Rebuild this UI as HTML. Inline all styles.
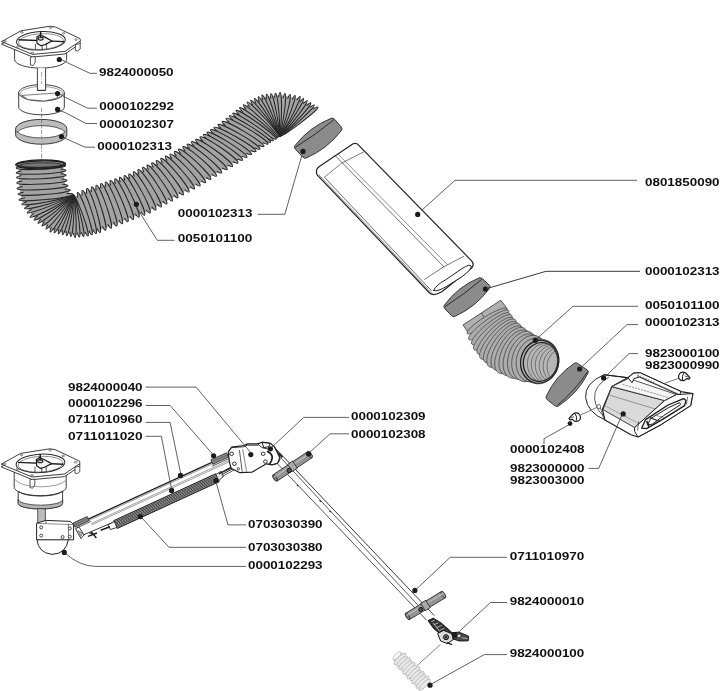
<!DOCTYPE html>
<html><head><meta charset="utf-8"><title>Parts diagram</title>
<style>html,body{margin:0;padding:0;background:#fff;}body{width:722px;height:691px;overflow:hidden;font-family:"Liberation Sans",sans-serif;}svg{display:block;filter:blur(0.35px);}</style></head>
<body>
<svg width="722" height="691" viewBox="0 0 722 691">
<rect width="722" height="691" fill="#fff"/>
<g>
<path d="M280.8 134.9 L279.9 134.2 L278.8 133.9 L277.7 134.1 L276.9 134.6 L273.9 137.5 L265.8 142.7 L253.7 150.2 L235.9 161.5 L198.2 184.1 L148.8 210.7 L99.3 230 L87.1 233.6 L74.9 234.9 L51.4 229.8 L32.3 215.8 L21.6 199.7 L19.6 188.3 L19 177.4 L18.6 167.9 L63 165.7 L63.6 175.1 L65.4 185.7 L70.4 194.8 L70.7 195.7 L71.6 196.7 L73.1 197.1 L73.9 196.9 L87.7 191 L130.2 176.3 L171.8 155.9 L202.1 138.5 L216.3 128.8 L228.2 119.8 L238.1 112 L248.8 103.9 L263 97.4 L279.9 95.1 L298.8 98.8 L315.9 108.6 Z" fill="#a3a3a3" stroke="none" stroke-width="0" stroke-linejoin="round" />
<ellipse cx="298.4" cy="121.8" rx="24.6" ry="2.2" fill="#a3a3a3" stroke="#262626" stroke-width="1.0" pathLength="100" stroke-dasharray="62 38" stroke-dashoffset="6" transform="rotate(-36.9 298.4 121.8)"/>
<ellipse cx="296.5" cy="120.7" rx="23.8" ry="2.1" fill="#a3a3a3" stroke="#262626" stroke-width="1.0" pathLength="100" stroke-dasharray="62 38" stroke-dashoffset="6" transform="rotate(-41.5 296.5 120.7)"/>
<ellipse cx="294.8" cy="119.7" rx="23.3" ry="2.1" fill="#a3a3a3" stroke="#262626" stroke-width="1.0" pathLength="100" stroke-dasharray="62 38" stroke-dashoffset="6" transform="rotate(-46.4 294.8 119.7)"/>
<ellipse cx="292.9" cy="118.6" rx="22.9" ry="2.1" fill="#a3a3a3" stroke="#262626" stroke-width="1.0" pathLength="100" stroke-dasharray="62 38" stroke-dashoffset="6" transform="rotate(-51.5 292.9 118.6)"/>
<ellipse cx="291.1" cy="117.5" rx="22.7" ry="2" fill="#a3a3a3" stroke="#262626" stroke-width="1.0" pathLength="100" stroke-dasharray="62 38" stroke-dashoffset="6" transform="rotate(-56.7 291.1 117.5)"/>
<ellipse cx="289.4" cy="116.5" rx="22.7" ry="2" fill="#a3a3a3" stroke="#262626" stroke-width="1.0" pathLength="100" stroke-dasharray="62 38" stroke-dashoffset="6" transform="rotate(-62 289.4 116.5)"/>
<ellipse cx="286.9" cy="116" rx="22.1" ry="2" fill="#a3a3a3" stroke="#262626" stroke-width="1.0" pathLength="100" stroke-dasharray="62 38" stroke-dashoffset="6" transform="rotate(-68.3 286.9 116)"/>
<ellipse cx="284.4" cy="115.5" rx="21.7" ry="2" fill="#a3a3a3" stroke="#262626" stroke-width="1.0" pathLength="100" stroke-dasharray="62 38" stroke-dashoffset="6" transform="rotate(-74.9 284.4 115.5)"/>
<ellipse cx="281.9" cy="115" rx="21.7" ry="2" fill="#a3a3a3" stroke="#262626" stroke-width="1.0" pathLength="100" stroke-dasharray="62 38" stroke-dashoffset="6" transform="rotate(-81.7 281.9 115)"/>
<ellipse cx="279.4" cy="114.5" rx="22" ry="2" fill="#a3a3a3" stroke="#262626" stroke-width="1.0" pathLength="100" stroke-dasharray="62 38" stroke-dashoffset="6" transform="rotate(-88.3 279.4 114.5)"/>
<ellipse cx="277.1" cy="114.8" rx="21.7" ry="2" fill="#a3a3a3" stroke="#262626" stroke-width="1.0" pathLength="100" stroke-dasharray="62 38" stroke-dashoffset="6" transform="rotate(-94.2 277.1 114.8)"/>
<ellipse cx="274.9" cy="115.1" rx="21.7" ry="2" fill="#a3a3a3" stroke="#262626" stroke-width="1.0" pathLength="100" stroke-dasharray="62 38" stroke-dashoffset="6" transform="rotate(-100.2 274.9 115.1)"/>
<ellipse cx="272.6" cy="115.4" rx="21.9" ry="2" fill="#a3a3a3" stroke="#262626" stroke-width="1.0" pathLength="100" stroke-dasharray="62 38" stroke-dashoffset="6" transform="rotate(-106.2 272.6 115.4)"/>
<ellipse cx="270.4" cy="115.8" rx="22.4" ry="2" fill="#a3a3a3" stroke="#262626" stroke-width="1.0" pathLength="100" stroke-dasharray="62 38" stroke-dashoffset="6" transform="rotate(-111.9 270.4 115.8)"/>
<ellipse cx="268.5" cy="116.6" rx="22.4" ry="2" fill="#a3a3a3" stroke="#262626" stroke-width="1.0" pathLength="100" stroke-dasharray="62 38" stroke-dashoffset="6" transform="rotate(-117.2 268.5 116.6)"/>
<ellipse cx="266.6" cy="117.5" rx="22.5" ry="2" fill="#a3a3a3" stroke="#262626" stroke-width="1.0" pathLength="100" stroke-dasharray="62 38" stroke-dashoffset="6" transform="rotate(-122.5 266.6 117.5)"/>
<ellipse cx="264.7" cy="118.4" rx="22.9" ry="2.1" fill="#a3a3a3" stroke="#262626" stroke-width="1.0" pathLength="100" stroke-dasharray="62 38" stroke-dashoffset="6" transform="rotate(-127.6 264.7 118.4)"/>
<ellipse cx="262.9" cy="119.2" rx="23.4" ry="2.1" fill="#a3a3a3" stroke="#262626" stroke-width="1.0" pathLength="100" stroke-dasharray="62 38" stroke-dashoffset="6" transform="rotate(-132.6 262.9 119.2)"/>
<ellipse cx="260.6" cy="121.1" rx="23.7" ry="2.2" fill="#a3a3a3" stroke="#262626" stroke-width="1.0" pathLength="100" stroke-dasharray="62 38" stroke-dashoffset="6" transform="rotate(-136.7 260.6 121.1)"/>
<ellipse cx="258.3" cy="122.9" rx="24.1" ry="2.3" fill="#a3a3a3" stroke="#262626" stroke-width="1.0" pathLength="100" stroke-dasharray="62 38" stroke-dashoffset="6" transform="rotate(-140.7 258.3 122.9)"/>
<ellipse cx="256" cy="124.8" rx="24.6" ry="2.5" fill="#a3a3a3" stroke="#262626" stroke-width="1.0" pathLength="100" stroke-dasharray="62 38" stroke-dashoffset="6" transform="rotate(-144.5 256 124.8)"/>
<ellipse cx="253" cy="126.9" rx="24.5" ry="2.5" fill="#a3a3a3" stroke="#262626" stroke-width="1.0" pathLength="100" stroke-dasharray="62 38" stroke-dashoffset="6" transform="rotate(-145.9 253 126.9)"/>
<ellipse cx="250" cy="129.1" rx="24.5" ry="2.6" fill="#a3a3a3" stroke="#262626" stroke-width="1.0" pathLength="100" stroke-dasharray="62 38" stroke-dashoffset="6" transform="rotate(-147.3 250 129.1)"/>
<ellipse cx="247" cy="131.2" rx="24.6" ry="2.7" fill="#a3a3a3" stroke="#262626" stroke-width="1.0" pathLength="100" stroke-dasharray="62 38" stroke-dashoffset="6" transform="rotate(-148.7 247 131.2)"/>
<ellipse cx="243" cy="134" rx="24.4" ry="2.8" fill="#a3a3a3" stroke="#262626" stroke-width="1.0" pathLength="100" stroke-dasharray="62 38" stroke-dashoffset="6" transform="rotate(-149.2 243 134)"/>
<ellipse cx="239" cy="136.8" rx="24.3" ry="2.8" fill="#a3a3a3" stroke="#262626" stroke-width="1.0" pathLength="100" stroke-dasharray="62 38" stroke-dashoffset="6" transform="rotate(-149.7 239 136.8)"/>
<ellipse cx="235" cy="139.5" rx="24.2" ry="2.9" fill="#a3a3a3" stroke="#262626" stroke-width="1.0" pathLength="100" stroke-dasharray="62 38" stroke-dashoffset="6" transform="rotate(-150.3 235 139.5)"/>
<ellipse cx="231" cy="142.1" rx="23.9" ry="2.9" fill="#a3a3a3" stroke="#262626" stroke-width="1.0" pathLength="100" stroke-dasharray="62 38" stroke-dashoffset="6" transform="rotate(-149.1 231 142.1)"/>
<ellipse cx="227" cy="144.8" rx="23.6" ry="2.9" fill="#a3a3a3" stroke="#262626" stroke-width="1.0" pathLength="100" stroke-dasharray="62 38" stroke-dashoffset="6" transform="rotate(-148 227 144.8)"/>
<ellipse cx="223" cy="147.4" rx="23.3" ry="3" fill="#a3a3a3" stroke="#262626" stroke-width="1.0" pathLength="100" stroke-dasharray="62 38" stroke-dashoffset="6" transform="rotate(-146.8 223 147.4)"/>
<ellipse cx="219" cy="150" rx="23" ry="3" fill="#a3a3a3" stroke="#262626" stroke-width="1.0" pathLength="100" stroke-dasharray="62 38" stroke-dashoffset="6" transform="rotate(-145.6 219 150)"/>
<ellipse cx="214.1" cy="152.9" rx="22.8" ry="3" fill="#a3a3a3" stroke="#262626" stroke-width="1.0" pathLength="100" stroke-dasharray="62 38" stroke-dashoffset="6" transform="rotate(-143.9 214.1 152.9)"/>
<ellipse cx="209.3" cy="155.7" rx="22.6" ry="2.9" fill="#a3a3a3" stroke="#262626" stroke-width="1.0" pathLength="100" stroke-dasharray="62 38" stroke-dashoffset="6" transform="rotate(-142.2 209.3 155.7)"/>
<ellipse cx="204.4" cy="158.6" rx="22.4" ry="2.9" fill="#a3a3a3" stroke="#262626" stroke-width="1.0" pathLength="100" stroke-dasharray="62 38" stroke-dashoffset="6" transform="rotate(-140.4 204.4 158.6)"/>
<ellipse cx="199.6" cy="161.4" rx="22.3" ry="2.9" fill="#a3a3a3" stroke="#262626" stroke-width="1.0" pathLength="100" stroke-dasharray="62 38" stroke-dashoffset="6" transform="rotate(-138.6 199.6 161.4)"/>
<ellipse cx="194.7" cy="164.3" rx="22.1" ry="2.9" fill="#a3a3a3" stroke="#262626" stroke-width="1.0" pathLength="100" stroke-dasharray="62 38" stroke-dashoffset="6" transform="rotate(-136.8 194.7 164.3)"/>
<ellipse cx="189.9" cy="167.1" rx="22" ry="2.9" fill="#a3a3a3" stroke="#262626" stroke-width="1.0" pathLength="100" stroke-dasharray="62 38" stroke-dashoffset="6" transform="rotate(-135 189.9 167.1)"/>
<ellipse cx="185" cy="170" rx="21.9" ry="2.9" fill="#a3a3a3" stroke="#262626" stroke-width="1.0" pathLength="100" stroke-dasharray="62 38" stroke-dashoffset="6" transform="rotate(-133.2 185 170)"/>
<ellipse cx="179.9" cy="172.6" rx="21.9" ry="2.8" fill="#a3a3a3" stroke="#262626" stroke-width="1.0" pathLength="100" stroke-dasharray="62 38" stroke-dashoffset="6" transform="rotate(-131.5 179.9 172.6)"/>
<ellipse cx="174.9" cy="175.2" rx="21.9" ry="2.8" fill="#a3a3a3" stroke="#262626" stroke-width="1.0" pathLength="100" stroke-dasharray="62 38" stroke-dashoffset="6" transform="rotate(-129.8 174.9 175.2)"/>
<ellipse cx="169.8" cy="177.8" rx="21.8" ry="2.8" fill="#a3a3a3" stroke="#262626" stroke-width="1.0" pathLength="100" stroke-dasharray="62 38" stroke-dashoffset="6" transform="rotate(-128.2 169.8 177.8)"/>
<ellipse cx="164.8" cy="180.4" rx="21.8" ry="2.8" fill="#a3a3a3" stroke="#262626" stroke-width="1.0" pathLength="100" stroke-dasharray="62 38" stroke-dashoffset="6" transform="rotate(-126.5 164.8 180.4)"/>
<ellipse cx="159.7" cy="183.1" rx="21.9" ry="2.8" fill="#a3a3a3" stroke="#262626" stroke-width="1.0" pathLength="100" stroke-dasharray="62 38" stroke-dashoffset="6" transform="rotate(-124.9 159.7 183.1)"/>
<ellipse cx="154.7" cy="185.7" rx="21.9" ry="2.8" fill="#a3a3a3" stroke="#262626" stroke-width="1.0" pathLength="100" stroke-dasharray="62 38" stroke-dashoffset="6" transform="rotate(-123.2 154.7 185.7)"/>
<ellipse cx="149.6" cy="188.3" rx="22" ry="2.9" fill="#a3a3a3" stroke="#262626" stroke-width="1.0" pathLength="100" stroke-dasharray="62 38" stroke-dashoffset="6" transform="rotate(-121.6 149.6 188.3)"/>
<ellipse cx="144.6" cy="190.9" rx="22.1" ry="2.9" fill="#a3a3a3" stroke="#262626" stroke-width="1.0" pathLength="100" stroke-dasharray="62 38" stroke-dashoffset="6" transform="rotate(-119.9 144.6 190.9)"/>
<ellipse cx="139.5" cy="193.5" rx="22.1" ry="2.9" fill="#a3a3a3" stroke="#262626" stroke-width="1.0" pathLength="100" stroke-dasharray="62 38" stroke-dashoffset="6" transform="rotate(-118.3 139.5 193.5)"/>
<ellipse cx="134.4" cy="195.4" rx="22.2" ry="2.9" fill="#a3a3a3" stroke="#262626" stroke-width="1.0" pathLength="100" stroke-dasharray="62 38" stroke-dashoffset="6" transform="rotate(-117 134.4 195.4)"/>
<ellipse cx="129.3" cy="197.3" rx="22.2" ry="2.8" fill="#a3a3a3" stroke="#262626" stroke-width="1.0" pathLength="100" stroke-dasharray="62 38" stroke-dashoffset="6" transform="rotate(-115.6 129.3 197.3)"/>
<ellipse cx="124.2" cy="199.2" rx="22.3" ry="2.8" fill="#a3a3a3" stroke="#262626" stroke-width="1.0" pathLength="100" stroke-dasharray="62 38" stroke-dashoffset="6" transform="rotate(-114.3 124.2 199.2)"/>
<ellipse cx="119.1" cy="201.1" rx="22.4" ry="2.8" fill="#a3a3a3" stroke="#262626" stroke-width="1.0" pathLength="100" stroke-dasharray="62 38" stroke-dashoffset="6" transform="rotate(-112.9 119.1 201.1)"/>
<ellipse cx="113.9" cy="202.9" rx="22.5" ry="2.8" fill="#a3a3a3" stroke="#262626" stroke-width="1.0" pathLength="100" stroke-dasharray="62 38" stroke-dashoffset="6" transform="rotate(-111.6 113.9 202.9)"/>
<ellipse cx="108.8" cy="204.8" rx="22.6" ry="2.8" fill="#a3a3a3" stroke="#262626" stroke-width="1.0" pathLength="100" stroke-dasharray="62 38" stroke-dashoffset="6" transform="rotate(-110.3 108.8 204.8)"/>
<ellipse cx="103.7" cy="206.7" rx="22.7" ry="2.8" fill="#a3a3a3" stroke="#262626" stroke-width="1.0" pathLength="100" stroke-dasharray="62 38" stroke-dashoffset="6" transform="rotate(-109 103.7 206.7)"/>
<ellipse cx="98.6" cy="208.6" rx="22.8" ry="2.8" fill="#a3a3a3" stroke="#262626" stroke-width="1.0" pathLength="100" stroke-dasharray="62 38" stroke-dashoffset="6" transform="rotate(-107.7 98.6 208.6)"/>
<ellipse cx="93.5" cy="210.5" rx="22.9" ry="2.8" fill="#a3a3a3" stroke="#262626" stroke-width="1.0" pathLength="100" stroke-dasharray="62 38" stroke-dashoffset="6" transform="rotate(-106.5 93.5 210.5)"/>
<ellipse cx="89.2" cy="212.1" rx="22.6" ry="2.6" fill="#a3a3a3" stroke="#262626" stroke-width="1.0" pathLength="100" stroke-dasharray="62 38" stroke-dashoffset="6" transform="rotate(-107.6 89.2 212.1)"/>
<ellipse cx="84.8" cy="213.7" rx="22.3" ry="2.4" fill="#a3a3a3" stroke="#262626" stroke-width="1.0" pathLength="100" stroke-dasharray="62 38" stroke-dashoffset="6" transform="rotate(-108.7 84.8 213.7)"/>
<ellipse cx="80.5" cy="215.2" rx="22.1" ry="2.2" fill="#a3a3a3" stroke="#262626" stroke-width="1.0" pathLength="100" stroke-dasharray="62 38" stroke-dashoffset="6" transform="rotate(-109.9 80.5 215.2)"/>
<ellipse cx="78.3" cy="215.5" rx="21.7" ry="2.1" fill="#a3a3a3" stroke="#262626" stroke-width="1.0" pathLength="100" stroke-dasharray="62 38" stroke-dashoffset="6" transform="rotate(-104.3 78.3 215.5)"/>
<ellipse cx="76.2" cy="215.8" rx="21.5" ry="2" fill="#a3a3a3" stroke="#262626" stroke-width="1.0" pathLength="100" stroke-dasharray="62 38" stroke-dashoffset="6" transform="rotate(-98.5 76.2 215.8)"/>
<ellipse cx="74" cy="216" rx="21.5" ry="1.9" fill="#a3a3a3" stroke="#262626" stroke-width="1.0" pathLength="100" stroke-dasharray="62 38" stroke-dashoffset="6" transform="rotate(-92.7 74 216)"/>
<ellipse cx="71.9" cy="215.5" rx="21.1" ry="1.9" fill="#a3a3a3" stroke="#262626" stroke-width="1.0" pathLength="100" stroke-dasharray="62 38" stroke-dashoffset="6" transform="rotate(-87.1 71.9 215.5)"/>
<ellipse cx="69.8" cy="215.1" rx="20.8" ry="1.9" fill="#a3a3a3" stroke="#262626" stroke-width="1.0" pathLength="100" stroke-dasharray="62 38" stroke-dashoffset="6" transform="rotate(-81.3 69.8 215.1)"/>
<ellipse cx="67.8" cy="214.6" rx="20.8" ry="1.9" fill="#a3a3a3" stroke="#262626" stroke-width="1.0" pathLength="100" stroke-dasharray="62 38" stroke-dashoffset="6" transform="rotate(-75.4 67.8 214.6)"/>
<ellipse cx="65.7" cy="214.2" rx="21" ry="1.9" fill="#a3a3a3" stroke="#262626" stroke-width="1.0" pathLength="100" stroke-dasharray="62 38" stroke-dashoffset="6" transform="rotate(-69.6 65.7 214.2)"/>
<ellipse cx="63.6" cy="213.7" rx="21.4" ry="1.9" fill="#a3a3a3" stroke="#262626" stroke-width="1.0" pathLength="100" stroke-dasharray="62 38" stroke-dashoffset="6" transform="rotate(-63.9 63.6 213.7)"/>
<ellipse cx="61.5" cy="213.2" rx="22" ry="2" fill="#a3a3a3" stroke="#262626" stroke-width="1.0" pathLength="100" stroke-dasharray="62 38" stroke-dashoffset="6" transform="rotate(-58.5 61.5 213.2)"/>
<ellipse cx="59.5" cy="211.8" rx="21.9" ry="2" fill="#a3a3a3" stroke="#262626" stroke-width="1.0" pathLength="100" stroke-dasharray="62 38" stroke-dashoffset="6" transform="rotate(-52 59.5 211.8)"/>
<ellipse cx="57.5" cy="210.2" rx="22.1" ry="2" fill="#a3a3a3" stroke="#262626" stroke-width="1.0" pathLength="100" stroke-dasharray="62 38" stroke-dashoffset="6" transform="rotate(-45.5 57.5 210.2)"/>
<ellipse cx="55.5" cy="208.8" rx="22.6" ry="2" fill="#a3a3a3" stroke="#262626" stroke-width="1.0" pathLength="100" stroke-dasharray="62 38" stroke-dashoffset="6" transform="rotate(-39.2 55.5 208.8)"/>
<ellipse cx="53.5" cy="207.2" rx="23.3" ry="2.1" fill="#a3a3a3" stroke="#262626" stroke-width="1.0" pathLength="100" stroke-dasharray="62 38" stroke-dashoffset="6" transform="rotate(-33.2 53.5 207.2)"/>
<ellipse cx="51.5" cy="205.8" rx="24.3" ry="2.2" fill="#a3a3a3" stroke="#262626" stroke-width="1.0" pathLength="100" stroke-dasharray="62 38" stroke-dashoffset="6" transform="rotate(-27.6 51.5 205.8)"/>
<ellipse cx="50.1" cy="203.6" rx="24.6" ry="2.2" fill="#a3a3a3" stroke="#262626" stroke-width="1.0" pathLength="100" stroke-dasharray="62 38" stroke-dashoffset="6" transform="rotate(-21.7 50.1 203.6)"/>
<ellipse cx="48.8" cy="201.5" rx="25.2" ry="2.3" fill="#a3a3a3" stroke="#262626" stroke-width="1.0" pathLength="100" stroke-dasharray="62 38" stroke-dashoffset="6" transform="rotate(-16.1 48.8 201.5)"/>
<ellipse cx="47.4" cy="199.4" rx="26.1" ry="2.3" fill="#a3a3a3" stroke="#262626" stroke-width="1.0" pathLength="100" stroke-dasharray="62 38" stroke-dashoffset="6" transform="rotate(-10.8 47.4 199.4)"/>
<ellipse cx="46" cy="197.2" rx="27.1" ry="2.4" fill="#a3a3a3" stroke="#262626" stroke-width="1.0" pathLength="100" stroke-dasharray="62 38" stroke-dashoffset="6" transform="rotate(-5.8 46 197.2)"/>
<ellipse cx="44.2" cy="192.1" rx="26.3" ry="2.5" fill="#a3a3a3" stroke="#262626" stroke-width="1.0" pathLength="100" stroke-dasharray="62 38" stroke-dashoffset="6" transform="rotate(-4.6 44.2 192.1)"/>
<ellipse cx="42.5" cy="187" rx="25.5" ry="2.6" fill="#a3a3a3" stroke="#262626" stroke-width="1.0" pathLength="100" stroke-dasharray="62 38" stroke-dashoffset="6" transform="rotate(-3.4 42.5 187)"/>
<ellipse cx="41.9" cy="181.6" rx="25.2" ry="2.5" fill="#a3a3a3" stroke="#262626" stroke-width="1.0" pathLength="100" stroke-dasharray="62 38" stroke-dashoffset="6" transform="rotate(-3.1 41.9 181.6)"/>
<ellipse cx="41.3" cy="176.2" rx="24.9" ry="2.5" fill="#a3a3a3" stroke="#262626" stroke-width="1.0" pathLength="100" stroke-dasharray="62 38" stroke-dashoffset="6" transform="rotate(-2.9 41.3 176.2)"/>
<ellipse cx="41.1" cy="171.5" rx="24.9" ry="2.5" fill="#a3a3a3" stroke="#262626" stroke-width="1.0" pathLength="100" stroke-dasharray="62 38" stroke-dashoffset="6" transform="rotate(-2.8 41.1 171.5)"/>
<ellipse cx="40.8" cy="166.8" rx="24.8" ry="2.5" fill="#a3a3a3" stroke="#262626" stroke-width="1.0" pathLength="100" stroke-dasharray="62 38" stroke-dashoffset="6" transform="rotate(-2.8 40.8 166.8)"/>
<ellipse cx="40.6" cy="164.4" rx="25" ry="4.5" fill="#5c5c5c" stroke="#1c1c1c" stroke-width="1.1" transform="rotate(-1 40.6 164.4)"/>
<ellipse cx="40.6" cy="164.2" rx="23.4" ry="3.3" fill="#8a8a8a" stroke="#1c1c1c" stroke-width="1.0" transform="rotate(-1 40.6 164.2)"/>
<ellipse cx="40.6" cy="165" rx="21" ry="2.2" fill="#777" stroke="#222" stroke-width="0.8" transform="rotate(-1 40.6 165)"/>
<circle cx="136.3" cy="204.3" r="2.6" fill="#1c1c1c"/>
</g>
<g>
<path d="M463 325 L500.8 300.2 L507 308.5 L468.5 333 Z" fill="#b0b0b0" stroke="#333" stroke-width="0.8" stroke-linejoin="round" />
<line x1="481.6" y1="312.6" x2="484.6" y2="318.8" stroke="#444" stroke-width="0.7" />
<ellipse cx="487" cy="321" rx="23.5" ry="4.6" fill="#acacac" stroke="#3c3c3c" stroke-width="0.65" transform="rotate(-32 487 321)"/>
<ellipse cx="488.7" cy="324.9" rx="24.7" ry="5.2" fill="#acacac" stroke="#3c3c3c" stroke-width="0.65" transform="rotate(-35.8 488.7 324.9)"/>
<ellipse cx="490.7" cy="328.7" rx="24.4" ry="5.9" fill="#acacac" stroke="#3c3c3c" stroke-width="0.65" transform="rotate(-39.2 490.7 328.7)"/>
<ellipse cx="492.8" cy="332.4" rx="25.5" ry="6.7" fill="#acacac" stroke="#3c3c3c" stroke-width="0.65" transform="rotate(-42.3 492.8 332.4)"/>
<ellipse cx="495.3" cy="335.9" rx="25.1" ry="7.5" fill="#acacac" stroke="#3c3c3c" stroke-width="0.65" transform="rotate(-45.4 495.3 335.9)"/>
<ellipse cx="498" cy="339.2" rx="26.1" ry="8.5" fill="#acacac" stroke="#3c3c3c" stroke-width="0.65" transform="rotate(-48.4 498 339.2)"/>
<ellipse cx="500.9" cy="342.3" rx="25.5" ry="9.4" fill="#acacac" stroke="#3c3c3c" stroke-width="0.65" transform="rotate(-51.3 500.9 342.3)"/>
<ellipse cx="504.2" cy="345.3" rx="26.2" ry="10.4" fill="#acacac" stroke="#3c3c3c" stroke-width="0.65" transform="rotate(-54.2 504.2 345.3)"/>
<ellipse cx="507.7" cy="348" rx="25.4" ry="11.4" fill="#acacac" stroke="#3c3c3c" stroke-width="0.65" transform="rotate(-57 507.7 348)"/>
<ellipse cx="511.5" cy="350.5" rx="25.8" ry="12.4" fill="#acacac" stroke="#3c3c3c" stroke-width="0.65" transform="rotate(-59.8 511.5 350.5)"/>
<ellipse cx="515.5" cy="352.8" rx="24.8" ry="13.5" fill="#acacac" stroke="#3c3c3c" stroke-width="0.65" transform="rotate(-62.5 515.5 352.8)"/>
<ellipse cx="519.9" cy="354.8" rx="25" ry="14.5" fill="#acacac" stroke="#3c3c3c" stroke-width="0.65" transform="rotate(-65.3 519.9 354.8)"/>
<ellipse cx="524.5" cy="356.7" rx="23.8" ry="15.6" fill="#acacac" stroke="#3c3c3c" stroke-width="0.65" transform="rotate(-68 524.5 356.7)"/>
<ellipse cx="529.3" cy="358.5" rx="23.9" ry="16.7" fill="#acacac" stroke="#3c3c3c" stroke-width="0.65" transform="rotate(-70.7 529.3 358.5)"/>
<ellipse cx="534.4" cy="360.1" rx="22.5" ry="17.9" fill="#acacac" stroke="#3c3c3c" stroke-width="0.65" transform="rotate(-73.4 534.4 360.1)"/>
<ellipse cx="539.7" cy="361.6" rx="22.5" ry="19" fill="#acacac" stroke="#3c3c3c" stroke-width="0.65" transform="rotate(-76 539.7 361.6)"/>
<ellipse cx="539.7" cy="361.8" rx="21.6" ry="19" fill="#a4a4a4" stroke="#1e1e1e" stroke-width="1.1" transform="rotate(-76 539.7 361.8)"/>
<clipPath id="h2o"><ellipse cx="540.6" cy="362" rx="19.6" ry="17" transform="rotate(-76 540.6 362)"/></clipPath>
<ellipse cx="540.6" cy="362" rx="19.6" ry="17" fill="#b6b6b6" stroke="#1e1e1e" stroke-width="1.2" transform="rotate(-76 540.6 362)"/>
<g clip-path="url(#h2o)">
<ellipse cx="545" cy="362.8" rx="19.6" ry="17.5" fill="none" stroke="#4a4a4a" stroke-width="0.6" transform="rotate(-76 545 362.8)"/>
<ellipse cx="549.4" cy="363.6" rx="19.6" ry="18" fill="none" stroke="#4a4a4a" stroke-width="0.6" transform="rotate(-76 549.4 363.6)"/>
<ellipse cx="553.8" cy="364.4" rx="19.6" ry="18.5" fill="none" stroke="#4a4a4a" stroke-width="0.6" transform="rotate(-76 553.8 364.4)"/>
<ellipse cx="558.2" cy="365.2" rx="19.6" ry="19" fill="none" stroke="#4a4a4a" stroke-width="0.6" transform="rotate(-76 558.2 365.2)"/>
<ellipse cx="562.6" cy="366" rx="19.6" ry="19.5" fill="none" stroke="#4a4a4a" stroke-width="0.6" transform="rotate(-76 562.6 366)"/>
<ellipse cx="567" cy="366.8" rx="19.6" ry="20" fill="none" stroke="#4a4a4a" stroke-width="0.6" transform="rotate(-76 567 366.8)"/>
</g>
<circle cx="535.3" cy="340.3" r="2.6" fill="#1c1c1c"/>
</g>
<g>
<path d="M14.6 46 L14.6 59.5 A 26 8.6 0 0 0 66.6 59.5 L66.6 46 Z" fill="#fff" stroke="#2a2a2a" stroke-width="0.9" stroke-linejoin="round" stroke-linecap="round" />
<path d="M1.5 44.2 L9.5 39.8 L21 33.4 L50 28.8 L55.5 29.6 L80 41.2 L80.4 43.6 L69 51.2 L65 54 L32.6 57 Z" fill="#fff" stroke="#2a2a2a" stroke-width="0.9" stroke-linejoin="round" />
<path d="M1.5 41.6 L9.5 37.2 L21 30.8 L50 26.2 L55.5 27 L80 38.6 L80.4 41 L69 48.6 L65 51.4 L32.6 54.4 Z" fill="#fff" stroke="#2a2a2a" stroke-width="0.9" stroke-linejoin="round" />
<path d="M30.4 57 L30.4 65 L33 65.6 L35.2 62.4 L35.2 56.6 Z" fill="#fff" stroke="#2a2a2a" stroke-width="0.8" stroke-linejoin="round" />
<path d="M75.4 44.6 L75.4 50.6 L77.6 51 L80.2 49 L80.2 43.6 Z" fill="#fff" stroke="#2a2a2a" stroke-width="0.8" stroke-linejoin="round" />
<ellipse cx="40.9" cy="40.8" rx="24.4" ry="9.2" fill="#fff" stroke="#2a2a2a" stroke-width="1.0" transform="rotate(-3 40.9 40.8)"/>
<ellipse cx="40.9" cy="41.6" rx="22.4" ry="7.8" fill="none" stroke="#444" stroke-width="0.6" transform="rotate(-3 40.9 41.6)"/>
<line x1="18.5" y1="39.8" x2="64" y2="41.6" stroke="#1c1c1c" stroke-width="1.4" />
<line x1="40.6" y1="32" x2="42.4" y2="50" stroke="#333" stroke-width="0.9" />
<line x1="35.4" y1="44" x2="35.4" y2="49.6" stroke="#333" stroke-width="0.8" />
<line x1="46.6" y1="43.6" x2="46.6" y2="49.4" stroke="#333" stroke-width="0.8" />
<path d="M36.8 37 L40 35 L44 36.6 L52 41 L45 44.6 L41 45.8 L37 43.2 Z" fill="#f2f2f2" stroke="#1c1c1c" stroke-width="1.2" stroke-linejoin="round" />
<ellipse cx="40.6" cy="38.6" rx="2.6" ry="1.6" fill="#ccc" stroke="#1c1c1c" stroke-width="1.1"/>
<line x1="40.6" y1="31.4" x2="40.6" y2="38" stroke="#1c1c1c" stroke-width="1.3" />
<ellipse cx="5" cy="41.4" rx="1.3" ry="0.8" fill="#fff" stroke="#333" stroke-width="0.6"/>
<ellipse cx="22" cy="32.4" rx="1.3" ry="0.8" fill="#fff" stroke="#333" stroke-width="0.6"/>
<ellipse cx="50.6" cy="27.6" rx="1.3" ry="0.8" fill="#fff" stroke="#333" stroke-width="0.6"/>
<ellipse cx="63.6" cy="33.4" rx="1.3" ry="0.8" fill="#fff" stroke="#333" stroke-width="0.6"/>
<ellipse cx="76" cy="39.6" rx="1.3" ry="0.8" fill="#fff" stroke="#333" stroke-width="0.6"/>
<ellipse cx="32.4" cy="52.8" rx="1.3" ry="0.8" fill="#fff" stroke="#333" stroke-width="0.6"/>
<ellipse cx="18" cy="46.4" rx="1.3" ry="0.8" fill="#fff" stroke="#333" stroke-width="0.6"/>
<path d="M37.4 68.2 L37.4 90.4 L45.6 90.4 L45.6 68.2" fill="#fff" stroke="#2a2a2a" stroke-width="0.9" stroke-linejoin="round" />
<line x1="41.6" y1="72" x2="41.6" y2="88" stroke="#555" stroke-width="0.5" stroke-dasharray="5 1.5 1 1.5"/>
<circle cx="59.3" cy="59.5" r="2.6" fill="#1c1c1c"/>
</g>
<g>
<path d="M18.7 93 L18.7 107 A 22.8 7.8 0 0 0 64.3 107 L64.3 93 Z" fill="#fff" stroke="#2a2a2a" stroke-width="0.9" stroke-linejoin="round" stroke-linecap="round" />
<ellipse cx="41.5" cy="92.8" rx="22.8" ry="8.2" fill="#fff" stroke="#2a2a2a" stroke-width="0.9"/>
<ellipse cx="41.5" cy="93.4" rx="21" ry="6.9" fill="none" stroke="#555" stroke-width="0.6"/>
<path d="M22 95.4 L60 92.8 L56 98.6 L44 101 L28 99.6 Z" fill="#fff" stroke="#444" stroke-width="0.7" stroke-linejoin="round" />
<path d="M37.4 84 L37.4 90.4 L45.6 90.4 L45.6 84" fill="#fff" stroke="#2a2a2a" stroke-width="0.9" stroke-linejoin="round" />
<line x1="37.4" y1="90.4" x2="45.6" y2="90.4" stroke="#2a2a2a" stroke-width="0.8" />
<line x1="41.6" y1="108" x2="41.6" y2="117.5" stroke="#555" stroke-width="0.6" stroke-dasharray="4 1.5"/>
<circle cx="57.6" cy="93.6" r="2.6" fill="#1c1c1c"/>
<circle cx="57.6" cy="109.4" r="2.6" fill="#1c1c1c"/>
</g>
<g>
<path d="M15.6 128.7 A 25.6 9.3 0 0 1 66.8 128.7 L66.8 134.9 A 25.6 9.3 0 0 1 15.6 134.9 Z" fill="#bcbcbc" stroke="#2a2a2a" stroke-width="0.9" stroke-linejoin="round" stroke-linecap="round" />
<path d="M17.1 131.8 A 25.6 9.3 0 0 1 65.3 131.8 A 25.6 9.3 0 0 1 17.1 131.8 Z" fill="#fff" stroke="#3a3a3a" stroke-width="0.8" stroke-linejoin="round" stroke-linecap="round" />
<line x1="41.6" y1="119" x2="41.6" y2="138" stroke="#555" stroke-width="0.6" stroke-dasharray="4 1.5"/>
<line x1="41.6" y1="144.5" x2="41.6" y2="158.5" stroke="#555" stroke-width="0.6" stroke-dasharray="5 1.5 1 1.5"/>
<circle cx="61.5" cy="136.6" r="2.6" fill="#1c1c1c"/>
</g>
<g>
<path d="M295.1 149 Q293.6 147.4 294.9 145.7 Q309.2 127.1 331 118.4 Q333 117.6 334.5 119.2 L341.3 127 Q342.8 128.6 341.5 130.4 Q327.6 148.7 306.4 157.9 Q304.4 158.8 302.9 157.2 Z" fill="#8b8b8b" stroke="#353535" stroke-width="1.0" stroke-linejoin="round" stroke-linecap="round" />
<path d="M295.8 147 Q315.6 134.8 333.6 120" fill="none" stroke="#2c2c2c" stroke-width="1.0" stroke-linejoin="round" stroke-linecap="round" />
<circle cx="303" cy="151.4" r="2.6" fill="#1c1c1c"/>
<path d="M444.6 308.5 Q443.1 306.9 444.4 305.1 Q457.8 286.7 478.9 278 Q480.9 277.2 482.5 278.7 L489.2 285.1 Q490.8 286.6 489.5 288.4 Q475.9 306.9 455 316.3 Q453 317.2 451.5 315.6 Z" fill="#8b8b8b" stroke="#353535" stroke-width="1.0" stroke-linejoin="round" stroke-linecap="round" />
<path d="M445.3 306.5 Q464.4 294.3 481.5 279.6" fill="none" stroke="#2c2c2c" stroke-width="1.0" stroke-linejoin="round" stroke-linecap="round" />
<circle cx="485.4" cy="289.1" r="2.6" fill="#1c1c1c"/>
<path d="M547.1 399.6 Q545.4 398.2 546.3 396.2 Q555.5 375.8 574.2 363.4 Q576 362.2 577.8 363.5 L587.2 369.9 Q589 371.2 588 373.2 Q577.6 393.5 558.4 406 Q556.6 407.2 554.9 405.8 Z" fill="#8b8b8b" stroke="#353535" stroke-width="1.0" stroke-linejoin="round" stroke-linecap="round" />
<path d="M557.6 405.2 Q575 390.6 587.6 371.8" fill="none" stroke="#2c2c2c" stroke-width="1.0" stroke-linejoin="round" stroke-linecap="round" />
<circle cx="579.6" cy="369" r="2.6" fill="#1c1c1c"/>
</g>
<g>
<path d="M316.6 172 Q316 168.6 320 166 L353.1 143.8 Q356.3 142.4 358.3 144.8 L471.6 260.8 Q474.8 264.8 471.6 268 L441.8 291.8 Q433.6 296.6 429.6 293 L317.6 175.4 Q316.2 173.8 316.6 172 Z" fill="#fff" stroke="#222" stroke-width="1.2" stroke-linejoin="round" stroke-linecap="round" />
<line x1="324.9" y1="177.8" x2="431.8" y2="291" stroke="#333" stroke-width="0.7" />
<line x1="318.8" y1="174.8" x2="433.2" y2="294.8" stroke="#444" stroke-width="0.6" />
<line x1="334.6" y1="155" x2="444.3" y2="267.2" stroke="#333" stroke-width="0.7" />
<line x1="338.1" y1="154.2" x2="447.6" y2="264.8" stroke="#444" stroke-width="0.6" />
<path d="M324.2 177.4 L341.6 163.2 L363.4 152.0" fill="none" stroke="#444" stroke-width="0.7" stroke-linejoin="round" stroke-linecap="round" />
<path d="M424.6 279.4 L443.0 267.2 L463.6 256.4" fill="none" stroke="#444" stroke-width="0.7" stroke-linejoin="round" stroke-linecap="round" />
<path d="M433.6 290.4 Q436 285 446 279.6 L462 268.6 Q469.8 263.6 471.2 266.0 Q471.6 269.6 462.4 276.4 L446.6 286.4 Q436.4 292.4 433.6 290.4 Z" fill="#fff" stroke="#222" stroke-width="1.0" stroke-linejoin="round" stroke-linecap="round" />
<circle cx="417.7" cy="214.4" r="2.6" fill="#1c1c1c"/>
</g>
<g>
<path d="M603.8 374.8 Q584.6 383 585.6 397.5 Q587.5 412.5 604.7 419.8 L631 428 L631 378.4 Z" fill="#fff" stroke="#222" stroke-width="1.0" stroke-linejoin="round" stroke-linecap="round" />
<path d="M608.6 377.2 Q593.6 386 594.6 398.5 Q596 411.5 606.6 418.4" fill="none" stroke="#333" stroke-width="0.8" stroke-linejoin="round" stroke-linecap="round" />
<line x1="603.8" y1="374.8" x2="628" y2="377.8" stroke="#222" stroke-width="1.0" />
<path d="M602.4 409.2 L611.9 386.6 L628 377.6 L633.4 373.2 L640 372.8 L681 391.6 L692.9 393.6 L690.6 405.6 L661 424.6 L638 437 L631 434.8 L604.9 419.9 Z" fill="#fff" stroke="#1e1e1e" stroke-width="1.2" stroke-linejoin="round" />
<path d="M611.9 386.8 L664.6 400.6 L634.6 427.6 L603 409.6 Z" fill="#dadada" stroke="#2a2a2a" stroke-width="0.9" stroke-linejoin="round" />
<line x1="608.4" y1="394.8" x2="655.4" y2="409" stroke="#666" stroke-width="0.6" />
<line x1="604.6" y1="405.6" x2="639" y2="423.6" stroke="#666" stroke-width="0.5" />
<path d="M611.9 386.6 L628.6 378.4 L676.6 394.6 L664.6 400.6 Z" fill="#f6f6f6" stroke="#2a2a2a" stroke-width="0.8" stroke-linejoin="round" />
<line x1="622.6" y1="384.4" x2="668.6" y2="397.6" stroke="#555" stroke-width="0.6" stroke-dasharray="2.2 1"/>
<path d="M628 377.8 L633.6 373.2 L640.2 372.8 L681 391.6 L679.6 395.2 L639.4 377 L634 378.6 L632 382.8 Z" fill="#fff" stroke="#1e1e1e" stroke-width="1.0" stroke-linejoin="round" />
<line x1="636.8" y1="375.4" x2="678.6" y2="394" stroke="#444" stroke-width="0.6" />
<line x1="638.5" y1="374.4" x2="637.3" y2="376.8" stroke="#444" stroke-width="0.6" />
<line x1="641.1" y1="375.6" x2="639.9" y2="378" stroke="#444" stroke-width="0.6" />
<line x1="643.7" y1="376.8" x2="642.5" y2="379.2" stroke="#444" stroke-width="0.6" />
<line x1="646.3" y1="378" x2="645.1" y2="380.4" stroke="#444" stroke-width="0.6" />
<line x1="648.9" y1="379.2" x2="647.7" y2="381.6" stroke="#444" stroke-width="0.6" />
<line x1="651.5" y1="380.4" x2="650.3" y2="382.8" stroke="#444" stroke-width="0.6" />
<line x1="654.1" y1="381.6" x2="652.9" y2="384" stroke="#444" stroke-width="0.6" />
<path d="M664.6 400.6 L676.6 394.6 L692.9 393.6 L690.6 405.6 L661 424.6 L638 437 L634.6 431.4 L634.6 427.6 Z" fill="#fff" stroke="#1e1e1e" stroke-width="1.0" stroke-linejoin="round" />
<path d="M641.6 428.2 L645.6 419.6 L668 405 L683.6 398.6 L686 400.6 L684.6 405.6 L662.6 419.4 L646.6 428.6 Z" fill="#f0f0f0" stroke="#1a1a1a" stroke-width="1.3" stroke-linejoin="round" />
<path d="M647.6 425 L650.6 418.6 L668.6 407.6 L679.6 402.6 L680.6 404.6 L663.6 415.6 L652.6 424 Z" fill="#fff" stroke="#222" stroke-width="1.0" stroke-linejoin="round" />
<line x1="649.6" y1="417.6" x2="659.6" y2="421.6" stroke="#222" stroke-width="1.1" />
<line x1="646.6" y1="421" x2="649" y2="426.6" stroke="#1a1a1a" stroke-width="1.6" />
<line x1="652.6" y1="414.6" x2="664.6" y2="417.6" stroke="#555" stroke-width="0.6" />
<line x1="637.6" y1="430.6" x2="638.6" y2="421.6" stroke="#333" stroke-width="0.7" />
<line x1="687.6" y1="396.6" x2="686.4" y2="404.6" stroke="#333" stroke-width="0.7" />
<ellipse cx="598.8" cy="406.6" rx="1.8" ry="2.2" fill="#fff" stroke="#333" stroke-width="0.7"/>
<line x1="600.4" y1="407.6" x2="603.6" y2="418.6" stroke="#333" stroke-width="0.7" />
<line x1="580.6" y1="415" x2="597" y2="407.4" stroke="#444" stroke-width="0.7" />
<line x1="664.7" y1="383.2" x2="678.5" y2="378.4" stroke="#444" stroke-width="0.7" />
<path d="M569 418.4 L573.3 413.8 Q575.8 412.2 578.4 413.4 Q581.2 415.8 580.2 419.2 Q578.4 422 574.8 421.4 L572.4 419.4 L570 420 Z" fill="#fff" stroke="#1c1c1c" stroke-width="1.2" stroke-linejoin="round" stroke-linecap="round" />
<path d="M575.4 414.2 Q577.6 416.8 576.4 420.4" fill="none" stroke="#222" stroke-width="1.0" stroke-linejoin="round" stroke-linecap="round" />
<path d="M570.6 418 L573.8 416.8" fill="none" stroke="#333" stroke-width="0.8" stroke-linejoin="round" stroke-linecap="round" />
<path d="M690 377.6 L685.7 373 Q683.2 371.4 680.6 372.6 Q677.8 375 678.8 378.4 Q680.6 381.2 684.2 380.6 L686.6 378.6 L689 379.2 Z" fill="#fff" stroke="#1c1c1c" stroke-width="1.2" stroke-linejoin="round" stroke-linecap="round" />
<path d="M683.6 373.4 Q681.4 376 682.6 379.6" fill="none" stroke="#222" stroke-width="1.0" stroke-linejoin="round" stroke-linecap="round" />
<path d="M688.4 377.2 L685.2 376" fill="none" stroke="#333" stroke-width="0.8" stroke-linejoin="round" stroke-linecap="round" />
<circle cx="603.6" cy="377.9" r="2.6" fill="#1c1c1c"/>
<circle cx="623.2" cy="413.9" r="2.6" fill="#1c1c1c"/>
<circle cx="570" cy="423.6" r="2.4" fill="#1c1c1c"/>
</g>
<g>
<path d="M18.2 487 L18.2 503.4 A 22.2 5.6 0 0 0 62.6 503.4 L62.6 487 Z" fill="#fff" stroke="#2a2a2a" stroke-width="0.9" stroke-linejoin="round" stroke-linecap="round" />
<path d="M18.2 499.6 L18.2 503.4 A 22.2 5.6 0 0 0 62.6 503.4 L62.6 499.6 A 22.2 5.6 0 0 1 18.2 499.6 Z" fill="#b4b4b4" stroke="#333" stroke-width="0.8" stroke-linejoin="round" stroke-linecap="round" />
<path d="M14.2 468.6 L14.2 487.1 A 26 8.6 0 0 0 66.2 487.1 L66.2 468.6 Z" fill="#fff" stroke="#2a2a2a" stroke-width="0.9" stroke-linejoin="round" stroke-linecap="round" />
<path d="M1.1 466.8 L9.1 462.4 L20.6 456 L49.6 451.4 L55.1 452.2 L79.6 463.8 L80 466.2 L68.6 473.8 L64.6 476.6 L32.2 479.6 Z" fill="#fff" stroke="#2a2a2a" stroke-width="0.9" stroke-linejoin="round" />
<path d="M1.1 464.2 L9.1 459.8 L20.6 453.4 L49.6 448.8 L55.1 449.6 L79.6 461.2 L80 463.6 L68.6 471.2 L64.6 474 L32.2 477 Z" fill="#fff" stroke="#2a2a2a" stroke-width="0.9" stroke-linejoin="round" />
<path d="M30 479.6 L30 487.6 L32.6 488.2 L34.8 485 L34.8 479.2 Z" fill="#fff" stroke="#2a2a2a" stroke-width="0.8" stroke-linejoin="round" />
<path d="M75 467.2 L75 473.2 L77.2 473.6 L79.8 471.6 L79.8 466.2 Z" fill="#fff" stroke="#2a2a2a" stroke-width="0.8" stroke-linejoin="round" />
<ellipse cx="40.5" cy="463.4" rx="24.4" ry="9.2" fill="#fff" stroke="#2a2a2a" stroke-width="1.0" transform="rotate(-3 40.5 463.4)"/>
<ellipse cx="40.5" cy="464.2" rx="22.4" ry="7.8" fill="none" stroke="#444" stroke-width="0.6" transform="rotate(-3 40.5 464.2)"/>
<line x1="18.1" y1="462.4" x2="63.6" y2="464.2" stroke="#1c1c1c" stroke-width="1.4" />
<line x1="40.2" y1="454.6" x2="42" y2="472.6" stroke="#333" stroke-width="0.9" />
<line x1="35" y1="466.6" x2="35" y2="472.2" stroke="#333" stroke-width="0.8" />
<line x1="46.2" y1="466.2" x2="46.2" y2="472" stroke="#333" stroke-width="0.8" />
<path d="M36.4 459.6 L39.6 457.6 L43.6 459.2 L51.6 463.6 L44.6 467.2 L40.6 468.4 L36.6 465.8 Z" fill="#f2f2f2" stroke="#1c1c1c" stroke-width="1.2" stroke-linejoin="round" />
<ellipse cx="40.2" cy="461.2" rx="2.6" ry="1.6" fill="#ccc" stroke="#1c1c1c" stroke-width="1.1"/>
<line x1="40.2" y1="454" x2="40.2" y2="460.6" stroke="#1c1c1c" stroke-width="1.3" />
<ellipse cx="4.6" cy="464" rx="1.3" ry="0.8" fill="#fff" stroke="#333" stroke-width="0.6"/>
<ellipse cx="21.6" cy="455" rx="1.3" ry="0.8" fill="#fff" stroke="#333" stroke-width="0.6"/>
<ellipse cx="50.2" cy="450.2" rx="1.3" ry="0.8" fill="#fff" stroke="#333" stroke-width="0.6"/>
<ellipse cx="63.2" cy="456" rx="1.3" ry="0.8" fill="#fff" stroke="#333" stroke-width="0.6"/>
<ellipse cx="75.6" cy="462.2" rx="1.3" ry="0.8" fill="#fff" stroke="#333" stroke-width="0.6"/>
<ellipse cx="32" cy="475.4" rx="1.3" ry="0.8" fill="#fff" stroke="#333" stroke-width="0.6"/>
<ellipse cx="17.6" cy="469" rx="1.3" ry="0.8" fill="#fff" stroke="#333" stroke-width="0.6"/>
<path d="M15.4 480 A 26 8.6 0 0 0 65.8 480.6" fill="none" stroke="#555" stroke-width="0.6" stroke-linejoin="round" stroke-linecap="round" />
<path d="M19.0 491.6 A 22 5.6 0 0 0 62.0 491.6" fill="none" stroke="#333" stroke-width="1.0" stroke-linejoin="round" stroke-linecap="round" />
<path d="M37.7 508.4 L37.7 523.4 L45.4 523.4 L45.4 509 Z" fill="#bdbdbd" stroke="#333" stroke-width="0.8" stroke-linejoin="round" />
<path d="M37.0 539.6 Q38.0 552.6 51.8 554.4 Q66.2 554.0 68.4 539.6 Z" fill="#fff" stroke="#222" stroke-width="1.0" stroke-linejoin="round" stroke-linecap="round" />
<path d="M36.6 523.2 L46 520.4 L70.4 521.4 L73.6 524.8 L73.6 539.8 L36.6 539.8 Z" fill="#fff" stroke="#222" stroke-width="1.0" stroke-linejoin="round" />
<line x1="46" y1="520.6" x2="46" y2="523.6" stroke="#333" stroke-width="0.7" />
<line x1="68.4" y1="523.6" x2="68.4" y2="539.6" stroke="#444" stroke-width="0.7" />
<line x1="37" y1="523.4" x2="73" y2="524.6" stroke="#444" stroke-width="0.6" />
<ellipse cx="41.2" cy="527.4" rx="1.5" ry="1.5" fill="#fff" stroke="#222" stroke-width="0.8"/>
<ellipse cx="41.2" cy="535.6" rx="1.5" ry="1.5" fill="#fff" stroke="#222" stroke-width="0.8"/>
<ellipse cx="62.6" cy="537" rx="1.5" ry="1.5" fill="#fff" stroke="#222" stroke-width="0.8"/>
<ellipse cx="69.8" cy="528.4" rx="1.5" ry="1.5" fill="#fff" stroke="#222" stroke-width="0.8"/>
<ellipse cx="69.8" cy="536.6" rx="1.5" ry="1.5" fill="#fff" stroke="#222" stroke-width="0.8"/>
<circle cx="64.3" cy="552.4" r="2.6" fill="#1c1c1c"/>
</g>
<g>
<path d="M75.2 525.1 L228.8 454.6 L234.4 466.8 L80.4 536.4 Z" fill="#fff" stroke="none" stroke-width="0" stroke-linejoin="round" />
<line x1="75.2" y1="525.1" x2="228.8" y2="454.6" stroke="#1e1e1e" stroke-width="1.3" />
<line x1="77.6" y1="525.6" x2="229.4" y2="456" stroke="#555" stroke-width="0.6" />
<line x1="91" y1="523.7" x2="230.1" y2="459.8" stroke="#555" stroke-width="0.55" />
<line x1="91.6" y1="524.9" x2="230.7" y2="461.1" stroke="#555" stroke-width="0.55" />
<line x1="80.3" y1="536.2" x2="117.1" y2="520.6" stroke="#222" stroke-width="0.9" />
<line x1="213.4" y1="476.2" x2="234.4" y2="466.8" stroke="#222" stroke-width="0.9" />
<path d="M113.8 520.6 L215.6 473.8 L219.2 481.7 L117.4 528.4 Z" fill="#8c8c8c" stroke="#262626" stroke-width="1.0" stroke-linejoin="round" />
<line x1="114.5" y1="520.6" x2="120.2" y2="526.8" stroke="#262626" stroke-width="0.75" />
<line x1="116.9" y1="519.5" x2="117.8" y2="527.9" stroke="#444" stroke-width="0.45" />
<line x1="116.7" y1="519.6" x2="122.4" y2="525.8" stroke="#262626" stroke-width="0.75" />
<line x1="119" y1="518.5" x2="120" y2="526.9" stroke="#444" stroke-width="0.45" />
<line x1="118.9" y1="518.6" x2="124.6" y2="524.8" stroke="#262626" stroke-width="0.75" />
<line x1="121.2" y1="517.5" x2="122.2" y2="525.9" stroke="#444" stroke-width="0.45" />
<line x1="121" y1="517.6" x2="126.7" y2="523.8" stroke="#262626" stroke-width="0.75" />
<line x1="123.4" y1="516.5" x2="124.4" y2="524.9" stroke="#444" stroke-width="0.45" />
<line x1="123.2" y1="516.6" x2="128.9" y2="522.8" stroke="#262626" stroke-width="0.75" />
<line x1="125.6" y1="515.5" x2="126.6" y2="523.9" stroke="#444" stroke-width="0.45" />
<line x1="125.4" y1="515.6" x2="131.1" y2="521.8" stroke="#262626" stroke-width="0.75" />
<line x1="127.8" y1="514.5" x2="128.7" y2="522.9" stroke="#444" stroke-width="0.45" />
<line x1="127.6" y1="514.6" x2="133.3" y2="520.8" stroke="#262626" stroke-width="0.75" />
<line x1="130" y1="513.5" x2="130.9" y2="521.9" stroke="#444" stroke-width="0.45" />
<line x1="129.8" y1="513.6" x2="135.5" y2="519.8" stroke="#262626" stroke-width="0.75" />
<line x1="132.1" y1="512.5" x2="133.1" y2="520.9" stroke="#444" stroke-width="0.45" />
<line x1="132" y1="512.6" x2="137.7" y2="518.8" stroke="#262626" stroke-width="0.75" />
<line x1="134.3" y1="511.5" x2="135.3" y2="519.9" stroke="#444" stroke-width="0.45" />
<line x1="134.1" y1="511.6" x2="139.8" y2="517.8" stroke="#262626" stroke-width="0.75" />
<line x1="136.5" y1="510.5" x2="137.5" y2="518.9" stroke="#444" stroke-width="0.45" />
<line x1="136.3" y1="510.6" x2="142" y2="516.8" stroke="#262626" stroke-width="0.75" />
<line x1="138.7" y1="509.5" x2="139.7" y2="517.8" stroke="#444" stroke-width="0.45" />
<line x1="138.5" y1="509.6" x2="144.2" y2="515.8" stroke="#262626" stroke-width="0.75" />
<line x1="140.9" y1="508.5" x2="141.8" y2="516.8" stroke="#444" stroke-width="0.45" />
<line x1="140.7" y1="508.6" x2="146.4" y2="514.8" stroke="#262626" stroke-width="0.75" />
<line x1="143" y1="507.5" x2="144" y2="515.8" stroke="#444" stroke-width="0.45" />
<line x1="142.9" y1="507.6" x2="148.6" y2="513.8" stroke="#262626" stroke-width="0.75" />
<line x1="145.2" y1="506.5" x2="146.2" y2="514.8" stroke="#444" stroke-width="0.45" />
<line x1="145" y1="506.6" x2="150.7" y2="512.8" stroke="#262626" stroke-width="0.75" />
<line x1="147.4" y1="505.5" x2="148.4" y2="513.8" stroke="#444" stroke-width="0.45" />
<line x1="147.2" y1="505.6" x2="152.9" y2="511.8" stroke="#262626" stroke-width="0.75" />
<line x1="149.6" y1="504.5" x2="150.6" y2="512.8" stroke="#444" stroke-width="0.45" />
<line x1="149.4" y1="504.6" x2="155.1" y2="510.8" stroke="#262626" stroke-width="0.75" />
<line x1="151.8" y1="503.5" x2="152.7" y2="511.8" stroke="#444" stroke-width="0.45" />
<line x1="151.6" y1="503.6" x2="157.3" y2="509.8" stroke="#262626" stroke-width="0.75" />
<line x1="153.9" y1="502.5" x2="154.9" y2="510.8" stroke="#444" stroke-width="0.45" />
<line x1="153.8" y1="502.6" x2="159.5" y2="508.8" stroke="#262626" stroke-width="0.75" />
<line x1="156.1" y1="501.5" x2="157.1" y2="509.8" stroke="#444" stroke-width="0.45" />
<line x1="155.9" y1="501.6" x2="161.6" y2="507.8" stroke="#262626" stroke-width="0.75" />
<line x1="158.3" y1="500.5" x2="159.3" y2="508.8" stroke="#444" stroke-width="0.45" />
<line x1="158.1" y1="500.6" x2="163.8" y2="506.8" stroke="#262626" stroke-width="0.75" />
<line x1="160.5" y1="499.5" x2="161.5" y2="507.8" stroke="#444" stroke-width="0.45" />
<line x1="160.3" y1="499.6" x2="166" y2="505.8" stroke="#262626" stroke-width="0.75" />
<line x1="162.7" y1="498.5" x2="163.6" y2="506.8" stroke="#444" stroke-width="0.45" />
<line x1="162.5" y1="498.6" x2="168.2" y2="504.7" stroke="#262626" stroke-width="0.75" />
<line x1="164.8" y1="497.5" x2="165.8" y2="505.8" stroke="#444" stroke-width="0.45" />
<line x1="164.7" y1="497.6" x2="170.4" y2="503.7" stroke="#262626" stroke-width="0.75" />
<line x1="167" y1="496.5" x2="168" y2="504.8" stroke="#444" stroke-width="0.45" />
<line x1="166.8" y1="496.6" x2="172.5" y2="502.7" stroke="#262626" stroke-width="0.75" />
<line x1="169.2" y1="495.5" x2="170.2" y2="503.8" stroke="#444" stroke-width="0.45" />
<line x1="169" y1="495.6" x2="174.7" y2="501.7" stroke="#262626" stroke-width="0.75" />
<line x1="171.4" y1="494.5" x2="172.4" y2="502.8" stroke="#444" stroke-width="0.45" />
<line x1="171.2" y1="494.6" x2="176.9" y2="500.7" stroke="#262626" stroke-width="0.75" />
<line x1="173.6" y1="493.5" x2="174.5" y2="501.8" stroke="#444" stroke-width="0.45" />
<line x1="173.4" y1="493.6" x2="179.1" y2="499.7" stroke="#262626" stroke-width="0.75" />
<line x1="175.8" y1="492.5" x2="176.7" y2="500.8" stroke="#444" stroke-width="0.45" />
<line x1="175.6" y1="492.6" x2="181.3" y2="498.7" stroke="#262626" stroke-width="0.75" />
<line x1="177.9" y1="491.5" x2="178.9" y2="499.8" stroke="#444" stroke-width="0.45" />
<line x1="177.8" y1="491.6" x2="183.5" y2="497.7" stroke="#262626" stroke-width="0.75" />
<line x1="180.1" y1="490.5" x2="181.1" y2="498.8" stroke="#444" stroke-width="0.45" />
<line x1="179.9" y1="490.6" x2="185.6" y2="496.7" stroke="#262626" stroke-width="0.75" />
<line x1="182.3" y1="489.5" x2="183.3" y2="497.8" stroke="#444" stroke-width="0.45" />
<line x1="182.1" y1="489.6" x2="187.8" y2="495.7" stroke="#262626" stroke-width="0.75" />
<line x1="184.5" y1="488.5" x2="185.5" y2="496.8" stroke="#444" stroke-width="0.45" />
<line x1="184.3" y1="488.6" x2="190" y2="494.7" stroke="#262626" stroke-width="0.75" />
<line x1="186.7" y1="487.5" x2="187.6" y2="495.8" stroke="#444" stroke-width="0.45" />
<line x1="186.5" y1="487.5" x2="192.2" y2="493.7" stroke="#262626" stroke-width="0.75" />
<line x1="188.8" y1="486.5" x2="189.8" y2="494.8" stroke="#444" stroke-width="0.45" />
<line x1="188.7" y1="486.5" x2="194.4" y2="492.7" stroke="#262626" stroke-width="0.75" />
<line x1="191" y1="485.5" x2="192" y2="493.8" stroke="#444" stroke-width="0.45" />
<line x1="190.8" y1="485.5" x2="196.5" y2="491.7" stroke="#262626" stroke-width="0.75" />
<line x1="193.2" y1="484.5" x2="194.2" y2="492.8" stroke="#444" stroke-width="0.45" />
<line x1="193" y1="484.5" x2="198.7" y2="490.7" stroke="#262626" stroke-width="0.75" />
<line x1="195.4" y1="483.5" x2="196.4" y2="491.8" stroke="#444" stroke-width="0.45" />
<line x1="195.2" y1="483.5" x2="200.9" y2="489.7" stroke="#262626" stroke-width="0.75" />
<line x1="197.6" y1="482.5" x2="198.5" y2="490.8" stroke="#444" stroke-width="0.45" />
<line x1="197.4" y1="482.5" x2="203.1" y2="488.7" stroke="#262626" stroke-width="0.75" />
<line x1="199.7" y1="481.5" x2="200.7" y2="489.8" stroke="#444" stroke-width="0.45" />
<line x1="199.6" y1="481.5" x2="205.3" y2="487.7" stroke="#262626" stroke-width="0.75" />
<line x1="201.9" y1="480.5" x2="202.9" y2="488.8" stroke="#444" stroke-width="0.45" />
<line x1="201.7" y1="480.5" x2="207.4" y2="486.7" stroke="#262626" stroke-width="0.75" />
<line x1="204.1" y1="479.5" x2="205.1" y2="487.8" stroke="#444" stroke-width="0.45" />
<line x1="203.9" y1="479.5" x2="209.6" y2="485.7" stroke="#262626" stroke-width="0.75" />
<line x1="206.3" y1="478.5" x2="207.3" y2="486.8" stroke="#444" stroke-width="0.45" />
<line x1="206.1" y1="478.5" x2="211.8" y2="484.7" stroke="#262626" stroke-width="0.75" />
<line x1="208.5" y1="477.5" x2="209.4" y2="485.8" stroke="#444" stroke-width="0.45" />
<line x1="208.3" y1="477.5" x2="214" y2="483.7" stroke="#262626" stroke-width="0.75" />
<line x1="210.7" y1="476.5" x2="211.6" y2="484.8" stroke="#444" stroke-width="0.45" />
<line x1="210.5" y1="476.5" x2="216.2" y2="482.7" stroke="#262626" stroke-width="0.75" />
<line x1="212.8" y1="475.5" x2="213.8" y2="483.8" stroke="#444" stroke-width="0.45" />
<line x1="212.7" y1="475.5" x2="218.4" y2="481.7" stroke="#262626" stroke-width="0.75" />
<line x1="215" y1="474.4" x2="216" y2="482.8" stroke="#444" stroke-width="0.45" />
<path d="M108.1 524.9 L114.2 521.5 L117 527.5 L110.2 529.5 Z" fill="#fff" stroke="#222" stroke-width="0.9" stroke-linejoin="round" />
<line x1="100.7" y1="530.3" x2="110" y2="526.7" stroke="#1e1e1e" stroke-width="1.5" />
<path d="M215.9 474.4 L221.1 471.3 L223.4 476.4 L218.8 480.7 Z" fill="#e8e8e8" stroke="#222" stroke-width="0.8" stroke-linejoin="round" />
<line x1="218.9" y1="473.9" x2="236.6" y2="464.4" stroke="#1e1e1e" stroke-width="1.2" />
<line x1="221.6" y1="474.8" x2="238.3" y2="465.6" stroke="#2a2a2a" stroke-width="1.0" />
<line x1="222.3" y1="476.5" x2="238.1" y2="467.7" stroke="#333" stroke-width="0.8" />
<line x1="88" y1="536.4" x2="97" y2="533" stroke="#1c1c1c" stroke-width="1.5" />
<line x1="91.2" y1="531.8" x2="96.4" y2="538" stroke="#1c1c1c" stroke-width="1.4" />
<line x1="89.2" y1="532.8" x2="93" y2="534" stroke="#1c1c1c" stroke-width="1.2" />
<path d="M73.1 523 L87.2 516.5 L89.1 520.7 L75 527.2 Z" fill="#868686" stroke="#2a2a2a" stroke-width="0.8" stroke-linejoin="round" />
<line x1="74.9" y1="524.6" x2="87.7" y2="518.7" stroke="#555" stroke-width="0.6" />
<path d="M210.8 459.9 L226.5 452.7 L228.5 457.1 L212.9 464.3 Z" fill="#868686" stroke="#2a2a2a" stroke-width="0.8" stroke-linejoin="round" />
<line x1="212.3" y1="461.7" x2="226.8" y2="455.1" stroke="#555" stroke-width="0.6" />
<line x1="76.5" y1="528" x2="91.1" y2="521.3" stroke="#333" stroke-width="0.8" />
<line x1="212.1" y1="466.2" x2="229.4" y2="458.3" stroke="#333" stroke-width="0.8" />
<path d="M75.5 528.7 L79 527.1 L84.1 534.9 L80.9 538.5 Z" fill="#fff" stroke="#222" stroke-width="0.9" stroke-linejoin="round" />
<path d="M77.9 530.5 L82.7 533.3 L80.7 536.6 Z" fill="#aaa" stroke="#444" stroke-width="0.5" stroke-linejoin="round" />
<circle cx="180.5" cy="475.4" r="2.6" fill="#1c1c1c"/>
<circle cx="171.6" cy="490.4" r="2.6" fill="#1c1c1c"/>
<circle cx="140.3" cy="516.6" r="2.6" fill="#1c1c1c"/>
<circle cx="213.6" cy="455.8" r="2.6" fill="#1c1c1c"/>
<circle cx="216" cy="480.6" r="2.6" fill="#1c1c1c"/>
</g>
<g>
<line x1="274.6" y1="447.5" x2="434.3" y2="615.6" stroke="#222" stroke-width="0.9" />
<line x1="281" y1="458" x2="418" y2="605.2" stroke="#333" stroke-width="0.8" />
<line x1="276.9" y1="463.2" x2="426.5" y2="620.1" stroke="#2a2a2a" stroke-width="0.8" />
<line x1="278.4" y1="453" x2="282.4" y2="457.4" stroke="#222" stroke-width="1.8" />
<line x1="297" y1="484.8" x2="298.2" y2="486.2" stroke="#222" stroke-width="1.1" />
<line x1="319.6" y1="500.4" x2="320.8" y2="501.8" stroke="#222" stroke-width="1.1" />
<line x1="329.6" y1="510.8" x2="330.8" y2="512.2" stroke="#222" stroke-width="1.1" />
</g>
<g>
<path d="M277.1 481.1 L312.1 457.7 L307.9 451.5 L272.9 474.9 Z" fill="#949494" stroke="#333" stroke-width="0.9" stroke-linejoin="round" />
<ellipse cx="275" cy="478" rx="1.6" ry="3.7" fill="#777" stroke="#2a2a2a" stroke-width="0.8" transform="rotate(-33.8 275 478)"/>
<ellipse cx="310" cy="454.6" rx="1.6" ry="3.7" fill="#9a9a9a" stroke="#2a2a2a" stroke-width="0.8" transform="rotate(-33.8 310 454.6)"/>
<line x1="274.3" y1="477" x2="309.3" y2="453.6" stroke="#b8b8b8" stroke-width="1.4" />
<path d="M292.4 471.5 L297.4 468.2 L292.6 461.1 L287.6 464.4 Z" fill="#a8a8a8" stroke="#222" stroke-width="0.8" stroke-linejoin="round" />
<ellipse cx="289.2" cy="470.4" rx="2.2" ry="2.2" fill="#555" stroke="#111" stroke-width="1.0"/>
<circle cx="308.6" cy="454" r="2.6" fill="#1c1c1c"/>
</g>
<g>
<path d="M228.3 452.2 L231.6 447.2 L243.8 445.5 L247.7 443.9 L257.7 443.9 L262.1 442.2 L270.4 443.3 L274.3 446.6 L279.8 457.7 L277.6 463.2 L272.1 464.9 L266.5 463.8 L252.1 472.1 L239.9 472.7 L231.1 468.2 L229.4 462.1 Z" fill="#fff" stroke="#1e1e1e" stroke-width="1.2" stroke-linejoin="round" />
<line x1="239.4" y1="450" x2="242.2" y2="471.6" stroke="#333" stroke-width="0.8" />
<line x1="242.7" y1="449.4" x2="246.6" y2="471.6" stroke="#555" stroke-width="0.7" />
<path d="M231.6 447.6 L243.6 446.8 L247.6 445.2 L257.6 445.2" fill="none" stroke="#222" stroke-width="0.9" stroke-linejoin="round" stroke-linecap="round" />
<path d="M262.1 442.4 L270.4 443.4 L268.8 446.6 L263.8 447.8 Z" fill="#fff" stroke="#1e1e1e" stroke-width="1.0" stroke-linejoin="round" />
<path d="M257.7 444.0 L262.0 447.6 L268.0 449.0" fill="none" stroke="#222" stroke-width="0.9" stroke-linejoin="round" stroke-linecap="round" />
<path d="M267.6 451.6 Q272.6 454.0 272.2 458.0 Q271.8 461.6 269.8 463.6" fill="none" stroke="#151515" stroke-width="1.7" stroke-linejoin="round" stroke-linecap="round" />
<path d="M274.3 447.0 Q281.6 455.6 279.6 460.6 Q277.6 464.6 271.6 464.6" fill="none" stroke="#222" stroke-width="0.9" stroke-linejoin="round" stroke-linecap="round" />
<ellipse cx="231.6" cy="453.8" rx="1.9" ry="1.7" fill="#fff" stroke="#1e1e1e" stroke-width="0.9"/>
<ellipse cx="234.4" cy="463.8" rx="1.9" ry="1.7" fill="#fff" stroke="#1e1e1e" stroke-width="0.9"/>
<ellipse cx="263.2" cy="453.8" rx="1.9" ry="1.7" fill="#fff" stroke="#1e1e1e" stroke-width="0.9"/>
<ellipse cx="265.4" cy="461.6" rx="1.9" ry="1.7" fill="#fff" stroke="#1e1e1e" stroke-width="0.9"/>
<ellipse cx="238.3" cy="468.8" rx="1.2" ry="1.2" fill="#fff" stroke="#222" stroke-width="0.8"/>
<circle cx="250.8" cy="454.6" r="2.6" fill="#1c1c1c"/>
<circle cx="270.4" cy="448.8" r="2.6" fill="#1c1c1c"/>
</g>
<g>
<path d="M409.5 619.6 L445.3 597.8 L441.5 591.4 L405.7 613.2 Z" fill="#949494" stroke="#333" stroke-width="0.9" stroke-linejoin="round" />
<ellipse cx="407.6" cy="616.4" rx="1.6" ry="3.7" fill="#777" stroke="#2a2a2a" stroke-width="0.8" transform="rotate(-31.3 407.6 616.4)"/>
<ellipse cx="443.4" cy="594.6" rx="1.6" ry="3.7" fill="#9a9a9a" stroke="#2a2a2a" stroke-width="0.8" transform="rotate(-31.3 443.4 594.6)"/>
<line x1="407" y1="615.4" x2="442.8" y2="593.6" stroke="#b8b8b8" stroke-width="1.4" />
<path d="M425.2 610.7 L430.3 607.6 L425.8 600.3 L420.7 603.4 Z" fill="#a8a8a8" stroke="#222" stroke-width="0.8" stroke-linejoin="round" />
<ellipse cx="420.8" cy="609.4" rx="2" ry="2" fill="#555" stroke="#111" stroke-width="1.0"/>
<circle cx="414.9" cy="590.4" r="2.6" fill="#1c1c1c"/>
</g>
<g>
<path d="M428 620.6 L433.4 618.2 L441.4 623.2 L449.4 630.2 L453 633.6 L449.4 638.4 L441.6 635 L433.6 628.4 Z" fill="#333" stroke="#141414" stroke-width="1.0" stroke-linejoin="round" />
<line x1="431.4" y1="621.6" x2="434.6" y2="620.4" stroke="#d0d0d0" stroke-width="0.8" />
<line x1="434" y1="624.6" x2="438.4" y2="622.8" stroke="#d0d0d0" stroke-width="0.8" />
<line x1="436.6" y1="627.6" x2="441.6" y2="625.4" stroke="#d0d0d0" stroke-width="0.8" />
<line x1="439.6" y1="630.4" x2="444.6" y2="628.2" stroke="#d0d0d0" stroke-width="0.8" />
<line x1="442.6" y1="633" x2="447.4" y2="631" stroke="#d0d0d0" stroke-width="0.8" />
<line x1="433" y1="623" x2="440" y2="631.6" stroke="#d0d0d0" stroke-width="0.8" />
<path d="M437.6 633.4 L443.6 630.4 L451.6 633.6 L453.4 639.4 L447.4 643.6 L440.6 641 Z" fill="#dcdcdc" stroke="#141414" stroke-width="1.0" stroke-linejoin="round" />
<ellipse cx="446" cy="637.2" rx="2.5" ry="2.5" fill="#8a8a8a" stroke="#111" stroke-width="1.0"/>
<ellipse cx="446" cy="637.2" rx="0.9" ry="0.9" fill="#222" stroke="#111" stroke-width="0.5"/>
<path d="M452.4 632.6 L459 632.2 L468.6 636.2 L468.2 640.8 L459.6 641 L453 639 Z" fill="#4a4a4a" stroke="#141414" stroke-width="1.0" stroke-linejoin="round" />
<path d="M456.6 634 L461 634.6 L460.6 637.4 L456.6 637 Z" fill="#e6e6e6" stroke="#222" stroke-width="0.6" stroke-linejoin="round" />
<line x1="461.6" y1="637.8" x2="467.6" y2="638.6" stroke="#ddd" stroke-width="0.7" />
<line x1="447" y1="642.6" x2="452" y2="644.6" stroke="#1c1c1c" stroke-width="1.2" />
<circle cx="455" cy="635.2" r="2.6" fill="#1c1c1c"/>
<line x1="440.4" y1="644.6" x2="417" y2="665.6" stroke="#555" stroke-width="0.7" />
</g>
<g>
<ellipse cx="397.6" cy="656.6" rx="5.4" ry="2.2" fill="#e9e9e9" stroke="#b3b3b3" stroke-width="0.8" transform="rotate(136 397.6 656.6)"/>
<ellipse cx="399.9" cy="658.9" rx="7.9" ry="2.2" fill="#e9e9e9" stroke="#b3b3b3" stroke-width="0.8" transform="rotate(136 399.9 658.9)"/>
<ellipse cx="402.1" cy="661.3" rx="7.1" ry="2.2" fill="#e9e9e9" stroke="#b3b3b3" stroke-width="0.8" transform="rotate(136 402.1 661.3)"/>
<ellipse cx="404.4" cy="663.6" rx="8" ry="2.2" fill="#e9e9e9" stroke="#b3b3b3" stroke-width="0.8" transform="rotate(136 404.4 663.6)"/>
<ellipse cx="406.6" cy="665.9" rx="7.3" ry="2.2" fill="#e9e9e9" stroke="#b3b3b3" stroke-width="0.8" transform="rotate(136 406.6 665.9)"/>
<ellipse cx="408.9" cy="668.3" rx="8.1" ry="2.2" fill="#e9e9e9" stroke="#b3b3b3" stroke-width="0.8" transform="rotate(136 408.9 668.3)"/>
<ellipse cx="411.1" cy="670.6" rx="7.4" ry="2.2" fill="#e9e9e9" stroke="#b3b3b3" stroke-width="0.8" transform="rotate(136 411.1 670.6)"/>
<ellipse cx="413.4" cy="672.9" rx="8.3" ry="2.2" fill="#e9e9e9" stroke="#b3b3b3" stroke-width="0.8" transform="rotate(136 413.4 672.9)"/>
<ellipse cx="415.6" cy="675.3" rx="7.5" ry="2.2" fill="#e9e9e9" stroke="#b3b3b3" stroke-width="0.8" transform="rotate(136 415.6 675.3)"/>
<ellipse cx="417.9" cy="677.6" rx="8.4" ry="2.2" fill="#e9e9e9" stroke="#b3b3b3" stroke-width="0.8" transform="rotate(136 417.9 677.6)"/>
<ellipse cx="420.1" cy="679.9" rx="7.7" ry="2.2" fill="#e9e9e9" stroke="#b3b3b3" stroke-width="0.8" transform="rotate(136 420.1 679.9)"/>
<ellipse cx="422.4" cy="682.3" rx="8.5" ry="2.2" fill="#e9e9e9" stroke="#b3b3b3" stroke-width="0.8" transform="rotate(136 422.4 682.3)"/>
<ellipse cx="424.6" cy="684.6" rx="7.8" ry="2.2" fill="#e9e9e9" stroke="#b3b3b3" stroke-width="0.8" transform="rotate(136 424.6 684.6)"/>
<ellipse cx="396.8" cy="655.7" rx="5" ry="2" fill="#f4f4f4" stroke="#bdbdbd" stroke-width="0.7" transform="rotate(136 396.8 655.7)"/>
<circle cx="430" cy="685.2" r="2.6" fill="#1c1c1c"/>
</g>
<path d="M62 60 L68 63 L90 73.3 L97 73.3" fill="none" stroke="#3a3a3a" stroke-width="0.8"/>
<path d="M60 94 L65 97.2 L87.6 108.2 L97 108.2" fill="none" stroke="#3a3a3a" stroke-width="0.8"/>
<path d="M60 110.5 L66 113 L86 123.5 L97 123.5" fill="none" stroke="#3a3a3a" stroke-width="0.8"/>
<path d="M63.5 137.5 L70 140.5 L85 147.2 L95 147.2" fill="none" stroke="#3a3a3a" stroke-width="0.8"/>
<path d="M302 155 L284.8 214.3 L257.6 214.3" fill="none" stroke="#3a3a3a" stroke-width="0.8"/>
<path d="M136.5 207.5 L157.3 240.3 L174.5 240.3" fill="none" stroke="#3a3a3a" stroke-width="0.8"/>
<path d="M422 210 L455 180.3 L637 180.3" fill="none" stroke="#3a3a3a" stroke-width="0.8"/>
<path d="M487 288.5 L546 271.3 L640 271.3" fill="none" stroke="#3a3a3a" stroke-width="1.0"/>
<path d="M536.5 339 L573 306.3 L638 306.3" fill="none" stroke="#3a3a3a" stroke-width="0.8"/>
<path d="M581 367.5 L627 324.6 L638 324.6" fill="none" stroke="#3a3a3a" stroke-width="0.8"/>
<path d="M605.5 376.5 L629 353.6 L638 353.6" fill="none" stroke="#3a3a3a" stroke-width="0.8"/>
<path d="M621.5 416 L598.7 468.4 L588.6 468.4" fill="none" stroke="#3a3a3a" stroke-width="0.8"/>
<path d="M568.5 425 L544 438.7 L544 444" fill="none" stroke="#3a3a3a" stroke-width="0.8"/>
<path d="M145.6 387.1 L196.1 387.1 L251 453" fill="none" stroke="#3a3a3a" stroke-width="0.8"/>
<path d="M145.6 405.5 L170.1 405.5 L212.5 454" fill="none" stroke="#3a3a3a" stroke-width="0.8"/>
<path d="M145.6 422.4 L170.1 422.4 L180.8 474" fill="none" stroke="#3a3a3a" stroke-width="0.8"/>
<path d="M145.6 436.3 L161.4 436.3 L171.5 489" fill="none" stroke="#3a3a3a" stroke-width="0.8"/>
<path d="M271.5 447.5 L303.8 417.4 L349 417.4" fill="none" stroke="#3a3a3a" stroke-width="0.8"/>
<path d="M309.5 452.5 L330 433.8 L349 433.8" fill="none" stroke="#3a3a3a" stroke-width="0.8"/>
<path d="M216 482 L228 524.9 L246 524.9" fill="none" stroke="#3a3a3a" stroke-width="0.8"/>
<path d="M141.5 517.5 L169 547.3 L246 547.3" fill="none" stroke="#3a3a3a" stroke-width="0.8"/>
<path d="M65.5 553.5 Q80 566.4 96 566.4 L246 566.4" fill="none" stroke="#3a3a3a" stroke-width="0.8"/>
<path d="M416 589.5 L450.2 557.3 L507 557.3" fill="none" stroke="#3a3a3a" stroke-width="0.8"/>
<path d="M456 634.5 L490.5 602.5 L507 602.5" fill="none" stroke="#3a3a3a" stroke-width="0.8"/>
<path d="M431.5 684 L484.3 654.6 L507 654.6" fill="none" stroke="#3a3a3a" stroke-width="0.8"/>
<g font-family="Liberation Sans, sans-serif" font-weight="bold" font-size="10.8" fill="#111">
<text x="99" y="75.9" textLength="74.6" lengthAdjust="spacingAndGlyphs">9824000050</text>
<text x="99.3" y="110" textLength="74.6" lengthAdjust="spacingAndGlyphs">0000102292</text>
<text x="99.3" y="127.6" textLength="74.6" lengthAdjust="spacingAndGlyphs">0000102307</text>
<text x="97.3" y="149.8" textLength="74.6" lengthAdjust="spacingAndGlyphs">0000102313</text>
<text x="177.8" y="216.8" textLength="74.6" lengthAdjust="spacingAndGlyphs">0000102313</text>
<text x="177.8" y="242.3" textLength="74.6" lengthAdjust="spacingAndGlyphs">0050101100</text>
<text x="645" y="185.6" textLength="74.6" lengthAdjust="spacingAndGlyphs">0801850090</text>
<text x="645" y="274.8" textLength="74.6" lengthAdjust="spacingAndGlyphs">0000102313</text>
<text x="645" y="308.9" textLength="74.6" lengthAdjust="spacingAndGlyphs">0050101100</text>
<text x="645" y="325.8" textLength="74.6" lengthAdjust="spacingAndGlyphs">0000102313</text>
<text x="645" y="357.4" textLength="74.6" lengthAdjust="spacingAndGlyphs">9823000100</text>
<text x="645" y="369.4" textLength="74.6" lengthAdjust="spacingAndGlyphs">9823000990</text>
<text x="510" y="453.2" textLength="74.6" lengthAdjust="spacingAndGlyphs">0000102408</text>
<text x="510" y="472.2" textLength="74.6" lengthAdjust="spacingAndGlyphs">9823000000</text>
<text x="510" y="484.2" textLength="74.6" lengthAdjust="spacingAndGlyphs">9823003000</text>
<text x="68" y="391.1" textLength="74.6" lengthAdjust="spacingAndGlyphs">9824000040</text>
<text x="68" y="407.2" textLength="74.6" lengthAdjust="spacingAndGlyphs">0000102296</text>
<text x="68" y="423.3" textLength="74.6" lengthAdjust="spacingAndGlyphs">0711010960</text>
<text x="68" y="439.5" textLength="74.6" lengthAdjust="spacingAndGlyphs">0711011020</text>
<text x="351" y="420.3" textLength="74.6" lengthAdjust="spacingAndGlyphs">0000102309</text>
<text x="351" y="437.6" textLength="74.6" lengthAdjust="spacingAndGlyphs">0000102308</text>
<text x="248" y="527.8" textLength="74.6" lengthAdjust="spacingAndGlyphs">0703030390</text>
<text x="248" y="550.6" textLength="74.6" lengthAdjust="spacingAndGlyphs">0703030380</text>
<text x="248" y="568.6" textLength="74.6" lengthAdjust="spacingAndGlyphs">0000102293</text>
<text x="509.7" y="560.4" textLength="74.6" lengthAdjust="spacingAndGlyphs">0711010970</text>
<text x="509.7" y="605.3" textLength="74.6" lengthAdjust="spacingAndGlyphs">9824000010</text>
<text x="509.7" y="657.1" textLength="74.6" lengthAdjust="spacingAndGlyphs">9824000100</text>
</g>
</svg>
</body></html>
